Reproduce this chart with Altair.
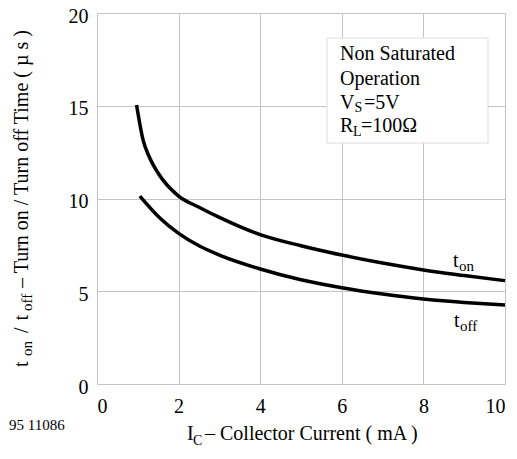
import altair as alt
import pandas as pd

# ---- data ----
ic_on = [0.97, 1.13, 1.28, 1.5, 2.0, 2.5, 3.0, 4.0, 5.0, 6.0, 7.0, 8.0, 9.0, 10.0]
t_on = [15.04, 13.15, 12.25, 11.36, 10.13, 9.53, 8.98, 8.05, 7.45, 6.95, 6.52, 6.15, 5.85, 5.57]
ic_off = [1.05, 1.54, 2.0, 2.5, 3.0, 4.0, 5.0, 6.0, 7.0, 8.0, 9.0, 10.0]
t_off = [10.13, 8.95, 8.12, 7.45, 6.95, 6.2, 5.62, 5.19, 4.85, 4.58, 4.4, 4.26]
x_ticks = [0, 2, 4, 6, 8, 10]
y_ticks = [0, 5, 10, 15, 20]

FONT = "Liberation Serif, Times New Roman, Times, DejaVu Serif, serif"
W, H = 408, 371

df = pd.concat([
    pd.DataFrame({"ic": ic_on, "t": t_on, "s": "on"}),
    pd.DataFrame({"ic": ic_off, "t": t_off, "s": "off"}),
])

xs = alt.Scale(domain=[0, 10], nice=False)
ys = alt.Scale(domain=[0, 20], nice=False)

base_x = alt.X("ic:Q", scale=xs, title=None,
               axis=alt.Axis(values=x_ticks, grid=True, gridColor="#c4c4c4", gridWidth=1,
                             domain=False, ticks=False, labelFont=FONT, labelFontSize=20,
                             labelColor="black", labelPadding=12, labelAngle=0))
base_y = alt.Y("t:Q", scale=ys, title=None,
               axis=alt.Axis(values=y_ticks, grid=True, gridColor="#c4c4c4", gridWidth=1,
                             domain=False, ticks=False, labelFont=FONT, labelFontSize=20,
                             labelColor="black", labelPadding=9, labelOffset=3))

lines = alt.Chart(df).mark_line(color="black", strokeWidth=3.5, interpolate="monotone").encode(
    x=base_x, y=base_y, detail="s:N")


def txt(s, x, y, size=20, angle=0, baseline="alphabetic"):
    kw = dict(font=FONT, fontSize=size, color="black", align="left", baseline=baseline)
    if angle:
        kw["angle"] = angle
    return alt.Chart(pd.DataFrame({"label": [s]})).mark_text(**kw).encode(
        text="label:N", x=alt.value(x), y=alt.value(y))


box = alt.Chart(pd.DataFrame({"b": [1]})).mark_rect(fill="white", stroke="#dddddd", strokeWidth=1).encode(
    x=alt.value(230), x2=alt.value(391), y=alt.value(25), y2=alt.value(130))

layers = [
    box,
    lines,
    # legend box text
    txt("Non Saturated", 243, 47),
    txt("Operation", 243, 71.5),
    txt("V", 243, 95.5), txt("S", 257.5, 99, 14), txt("=5V", 267, 95.5),
    txt("R", 243, 119), txt("L", 256, 122.5, 14), txt("=100Ω", 264, 119),
    # curve labels
    txt("t", 356, 253.5), txt("on", 362, 257.5, 15),
    txt("t", 357, 314), txt("off", 363, 318, 15),
    # x title
    txt("I", 90, 427), txt("C", 96, 432, 14), txt(" – Collector Current ( mA )", 108, 427, 20),
    # figure number
    txt("95 11086", -88, 417, 15),
    # y title (rotated)
    txt("t", -69, 354, 20, 270), txt("on", -65, 343, 15, 270),
    txt("/", -69, 320, 20, 270), txt("t", -69, 307.5, 20, 270),
    txt("off", -65, 298, 15, 270),
    txt(" – Turn on / Turn off Time ( µ s )", -69, 275, 20, 270),
]

chart = alt.layer(*layers).properties(
    width=W, height=H,
    padding={"left": 89, "top": 5, "right": 4, "bottom": 66},
    autosize=alt.AutoSizeParams(type="none"),
).configure_view(stroke="black", strokeWidth=3).configure(background="white")

chart.save("out.html", embed_options={"renderer": "svg", "actions": False})
